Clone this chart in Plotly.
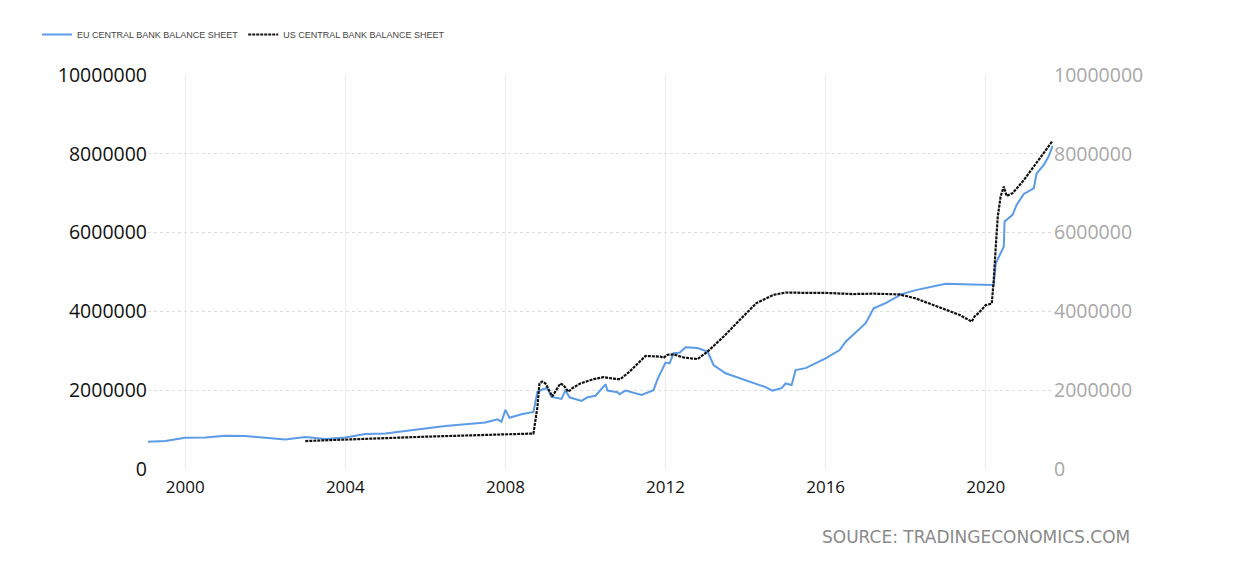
import plotly.graph_objects as go

# ---- data (decimal years, values) ----
eu_years = [1999.07, 1999.5, 2000.0, 2000.5, 2001.0, 2001.5, 2002.0, 2002.5, 2003.0, 2003.5,
            2004.0, 2004.5, 2005.0, 2005.5, 2006.0, 2006.5, 2007.0, 2007.5, 2007.8, 2007.9,
            2008.0, 2008.1, 2008.4, 2008.7, 2008.8, 2008.95, 2009.05, 2009.15, 2009.4, 2009.5,
            2009.6, 2009.9, 2010.05, 2010.25, 2010.5, 2010.55, 2010.8, 2010.85, 2011.0, 2011.4,
            2011.7, 2011.8, 2012.0, 2012.1, 2012.2, 2012.35, 2012.5, 2012.8, 2013.05, 2013.2,
            2013.5, 2013.85, 2014.2, 2014.35, 2014.5, 2014.67, 2014.9, 2015.0, 2015.15, 2015.25,
            2015.5, 2016.0, 2016.35, 2016.5, 2017.0, 2017.2, 2017.5, 2017.9, 2018.25, 2018.65,
            2019.0, 2019.65, 2020.15, 2020.2, 2020.25, 2020.45, 2020.47, 2020.67, 2020.77, 2020.95,
            2021.2, 2021.27, 2021.45, 2021.57, 2021.67]
eu_values = [690000, 710000, 790000, 800000, 845000, 840000, 790000, 750000, 810000, 760000,
             800000, 890000, 900000, 970000, 1030000, 1090000, 1130000, 1180000, 1260000, 1200000,
             1500000, 1300000, 1390000, 1450000, 1960000, 2030000, 2050000, 1830000, 1780000, 2000000,
             1820000, 1730000, 1820000, 1860000, 2150000, 1990000, 1950000, 1900000, 1990000, 1880000,
             2000000, 2280000, 2700000, 2680000, 2940000, 2950000, 3090000, 3070000, 2980000, 2640000,
             2430000, 2300000, 2170000, 2130000, 2080000, 1990000, 2050000, 2170000, 2130000, 2510000,
             2560000, 2810000, 3020000, 3230000, 3700000, 4080000, 4210000, 4440000, 4540000, 4630000,
             4700000, 4680000, 4670000, 4670000, 5220000, 5640000, 6280000, 6450000, 6700000, 6980000,
             7120000, 7500000, 7720000, 7930000, 8200000]

us_years = [2003.0, 2004.0, 2005.0, 2006.0, 2007.0, 2008.0, 2008.7, 2008.8, 2008.85, 2008.92,
            2009.0, 2009.17, 2009.3, 2009.37, 2009.45, 2009.57, 2009.67, 2009.87, 2010.2, 2010.45,
            2010.8, 2010.87, 2011.1, 2011.5, 2011.87, 2011.95, 2012.05, 2012.2, 2012.45, 2012.8,
            2013.05, 2013.45, 2013.85, 2014.27, 2014.7, 2015.0, 2015.5, 2016.0, 2016.67, 2017.2,
            2017.85, 2018.25, 2018.8, 2019.35, 2019.65, 2019.72, 2019.85, 2020.0, 2020.15, 2020.2,
            2020.25, 2020.3, 2020.37, 2020.45, 2020.52, 2020.67, 2020.95, 2021.2, 2021.45, 2021.67]
us_values = [710000, 750000, 780000, 820000, 850000, 890000, 900000, 1580000, 2170000, 2220000,
             2170000, 1840000, 2050000, 2170000, 2130000, 1960000, 2050000, 2170000, 2280000, 2330000,
             2280000, 2280000, 2470000, 2870000, 2850000, 2820000, 2900000, 2910000, 2830000, 2790000,
             2980000, 3360000, 3780000, 4210000, 4420000, 4480000, 4470000, 4470000, 4440000, 4450000,
             4430000, 4330000, 4120000, 3910000, 3740000, 3870000, 3990000, 4160000, 4200000, 4800000,
             5640000, 6400000, 6910000, 7170000, 6930000, 7000000, 7330000, 7670000, 8010000, 8330000]

x_ticks = [2000, 2004, 2008, 2012, 2016, 2020]
y_ticks = [0, 2000000, 4000000, 6000000, 8000000, 10000000]

# ---- layout geometry (page pixels; the page body has an 8px margin) ----
OFF = 8
W, H = 1240 - OFF, 571 - 2 * OFF
L, R, T, B = 148 - OFF, 1053 - OFF, 75 - OFF, 469 - OFF


def px(xp):
    return (xp - OFF - L) / (R - L)


def py(yp):
    return (B - (yp - OFF)) / (B - T)


fig = go.Figure()
fig.add_trace(go.Scatter(x=eu_years, y=eu_values, mode="lines",
                         name="EU CENTRAL BANK BALANCE SHEET",
                         line=dict(color="#5b9be8", width=2)))
fig.add_trace(go.Scatter(x=us_years, y=us_values, mode="lines", yaxis="y2",
                         name="US CENTRAL BANK BALANCE SHEET",
                         line=dict(color="#111111", width=2.2, dash="3px,1px")))

fig.update_layout(
    width=W, height=H, autosize=False,
    margin=dict(l=L, r=W - R, t=T, b=H - B, pad=0),
    paper_bgcolor="white", plot_bgcolor="white",
    font=dict(family="Open Sans, sans-serif"),
    showlegend=True,
    legend=dict(orientation="h", x=px(37), y=py(20), xanchor="left", yanchor="top",
                font=dict(family="Liberation Sans, Arial", size=9, color="#444"),
                itemwidth=30, bgcolor="rgba(0,0,0,0)"),
    xaxis=dict(range=[1999.07, 2021.68], tickvals=x_ticks, ticktext=[str(v) for v in x_ticks],
               showgrid=True, gridcolor="#ececec", gridwidth=1, zeroline=False, showline=False,
               ticks="", ticklabelstandoff=6,
               tickfont=dict(size=17, color="#111")),
    yaxis=dict(range=[0, 10000000], tickvals=y_ticks, ticktext=[str(v) for v in y_ticks],
               showgrid=True, gridcolor="#dddddd", griddash="dot", zeroline=False,
               showline=False, ticks="", tickfont=dict(size=19.5, color="#111")),
    yaxis2=dict(range=[0, 10000000], tickvals=y_ticks, ticktext=[str(v) for v in y_ticks],
                overlaying="y", side="right", showgrid=False, zeroline=False,
                showline=False, ticks="", tickfont=dict(size=19.5, color="#a8a8a8")),
)

# frame decoration (right border of the card)
fig.add_shape(type="line", xref="paper", yref="paper", x0=px(1233), x1=px(1233), y0=py(8), y1=py(563),
              line=dict(color="#e0e0e0", width=1))

fig.add_annotation(text="SOURCE: TRADINGECONOMICS.COM", xref="paper", yref="paper",
                   x=px(1132), y=py(537), xanchor="right", yanchor="middle", showarrow=False,
                   font=dict(family="DejaVu Sans", size=17, color="#8a8a8a"))

fig.write_html("out.html")
